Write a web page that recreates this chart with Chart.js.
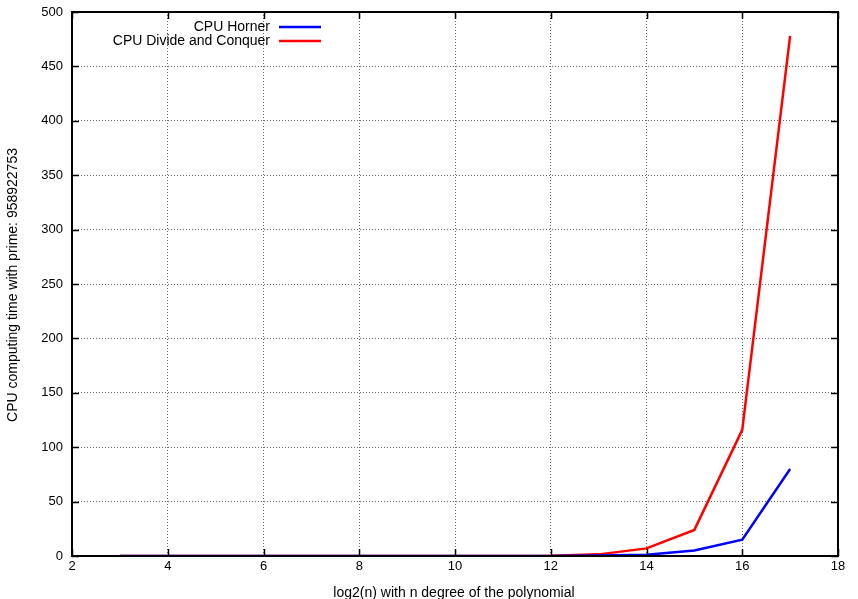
<!DOCTYPE html>
<html>
<head>
<meta charset="utf-8">
<script src="https://cdn.jsdelivr.net/npm/chart.js@4/dist/chart.umd.min.js"></script>
<style>
  html, body { margin: 0; padding: 0; background: #fff; }
  #wrap { width: 858px; height: 599px; }
</style>
</head>
<body>
<div id="wrap"><canvas id="chart"></canvas></div>
<script>
// log2(n) values and timings
const degrees = [3, 4, 5, 6, 7, 8, 9, 10, 11, 12, 13, 14, 15, 16, 17];
const hornerTimes = [0, 0, 0, 0, 0, 0, 0.01, 0.02, 0.04, 0.1, 0.4, 1.2, 5, 15, 80];
const divideTimes = [0, 0, 0, 0, 0, 0, 0.01, 0.03, 0.1, 0.3, 1.5, 7, 24, 116, 478];
const seriesNames = ['CPU Horner', 'CPU Divide and Conquer'];
const seriesColors = ['#0000ff', '#ff0000'];
const xTitle = 'log2(n) with n degree of the polynomial';
const yTitle = 'CPU computing time with prime: 958922753';

const FONT = '"Liberation Sans", Arial, sans-serif';

// gnuplot style frame: border, inward ticks on all sides, legend, axis titles
const gnuplotFrame = {
    id: 'gnuplotFrame',
    afterDraw(chart) {
        const ctx = chart.ctx;
        const a = chart.chartArea;
        const xs = chart.scales.x, ys = chart.scales.y;
        ctx.save();
        ctx.strokeStyle = '#000';
        ctx.lineWidth = 1.5;
        ctx.beginPath();
        xs.ticks.forEach(t => {
            const px = Math.round(xs.getPixelForValue(t.value)) + 0.5;
            ctx.moveTo(px, a.bottom); ctx.lineTo(px, a.bottom - 7);
            ctx.moveTo(px, a.top); ctx.lineTo(px, a.top + 7);
        });
        ys.ticks.forEach(t => {
            const py = Math.round(ys.getPixelForValue(t.value)) + 0.5;
            ctx.moveTo(a.left, py); ctx.lineTo(a.left + 7, py);
            ctx.moveTo(a.right, py); ctx.lineTo(a.right - 7, py);
        });
        ctx.stroke();
        ctx.lineWidth = 2;
        ctx.strokeRect(a.left, a.top, a.right - a.left, a.bottom - a.top);

        // legend
        ctx.font = '14px ' + FONT;
        ctx.textAlign = 'right';
        ctx.textBaseline = 'middle';
        ctx.lineWidth = 2.5;
        seriesNames.forEach((name, i) => {
            const y = 27 + i * 14;
            ctx.fillStyle = '#000';
            ctx.fillText(name, 270, y);
            ctx.strokeStyle = seriesColors[i];
            ctx.beginPath();
            ctx.moveTo(279, y); ctx.lineTo(321, y);
            ctx.stroke();
        });

        // axis titles
        ctx.fillStyle = '#000';
        ctx.textAlign = 'center';
        ctx.fillText(xTitle, (a.left + a.right) / 2 - 1, 593);
        ctx.translate(13, (a.top + a.bottom) / 2 + 1);
        ctx.rotate(-Math.PI / 2);
        ctx.fillText(yTitle, 0, 0);
        ctx.restore();
    }
};

const toPoints = vals => vals.map((v, i) => ({ x: degrees[i], y: v }));

new Chart(document.getElementById('chart'), {
    type: 'line',
    data: {
        datasets: [
            {
                label: seriesNames[0],
                data: toPoints(hornerTimes),
                borderColor: seriesColors[0],
                borderWidth: 2.5,
                pointRadius: 0,
                tension: 0
            },
            {
                label: seriesNames[1],
                data: toPoints(divideTimes),
                borderColor: seriesColors[1],
                borderWidth: 2.5,
                pointRadius: 0,
                tension: 0
            }
        ]
    },
    options: {
        responsive: true,
        maintainAspectRatio: false,
        animation: false,
        layout: { padding: { top: 12, right: 20, left: 0, bottom: 0 } },
        plugins: {
            legend: { display: false },
            tooltip: { enabled: false }
        },
        scales: {
            x: {
                type: 'linear',
                min: 2,
                max: 18,
                ticks: { stepSize: 2, color: '#000', padding: 3, font: { family: FONT, size: 13 } },
                grid: { color: '#666', drawTicks: false },
                border: { display: false, dash: [1, 2] },
                afterFit(scale) { scale.height = 43; }
            },
            y: {
                min: 0,
                max: 500,
                ticks: { stepSize: 50, color: '#000', padding: 9, font: { family: FONT, size: 13, lineHeight: 0.4 } },
                grid: { color: '#666', drawTicks: false },
                border: { display: false, dash: [1, 2] },
                afterFit(scale) { scale.width = 72; }
            }
        }
    },
    plugins: [gnuplotFrame]
});
</script>
</body>
</html>
